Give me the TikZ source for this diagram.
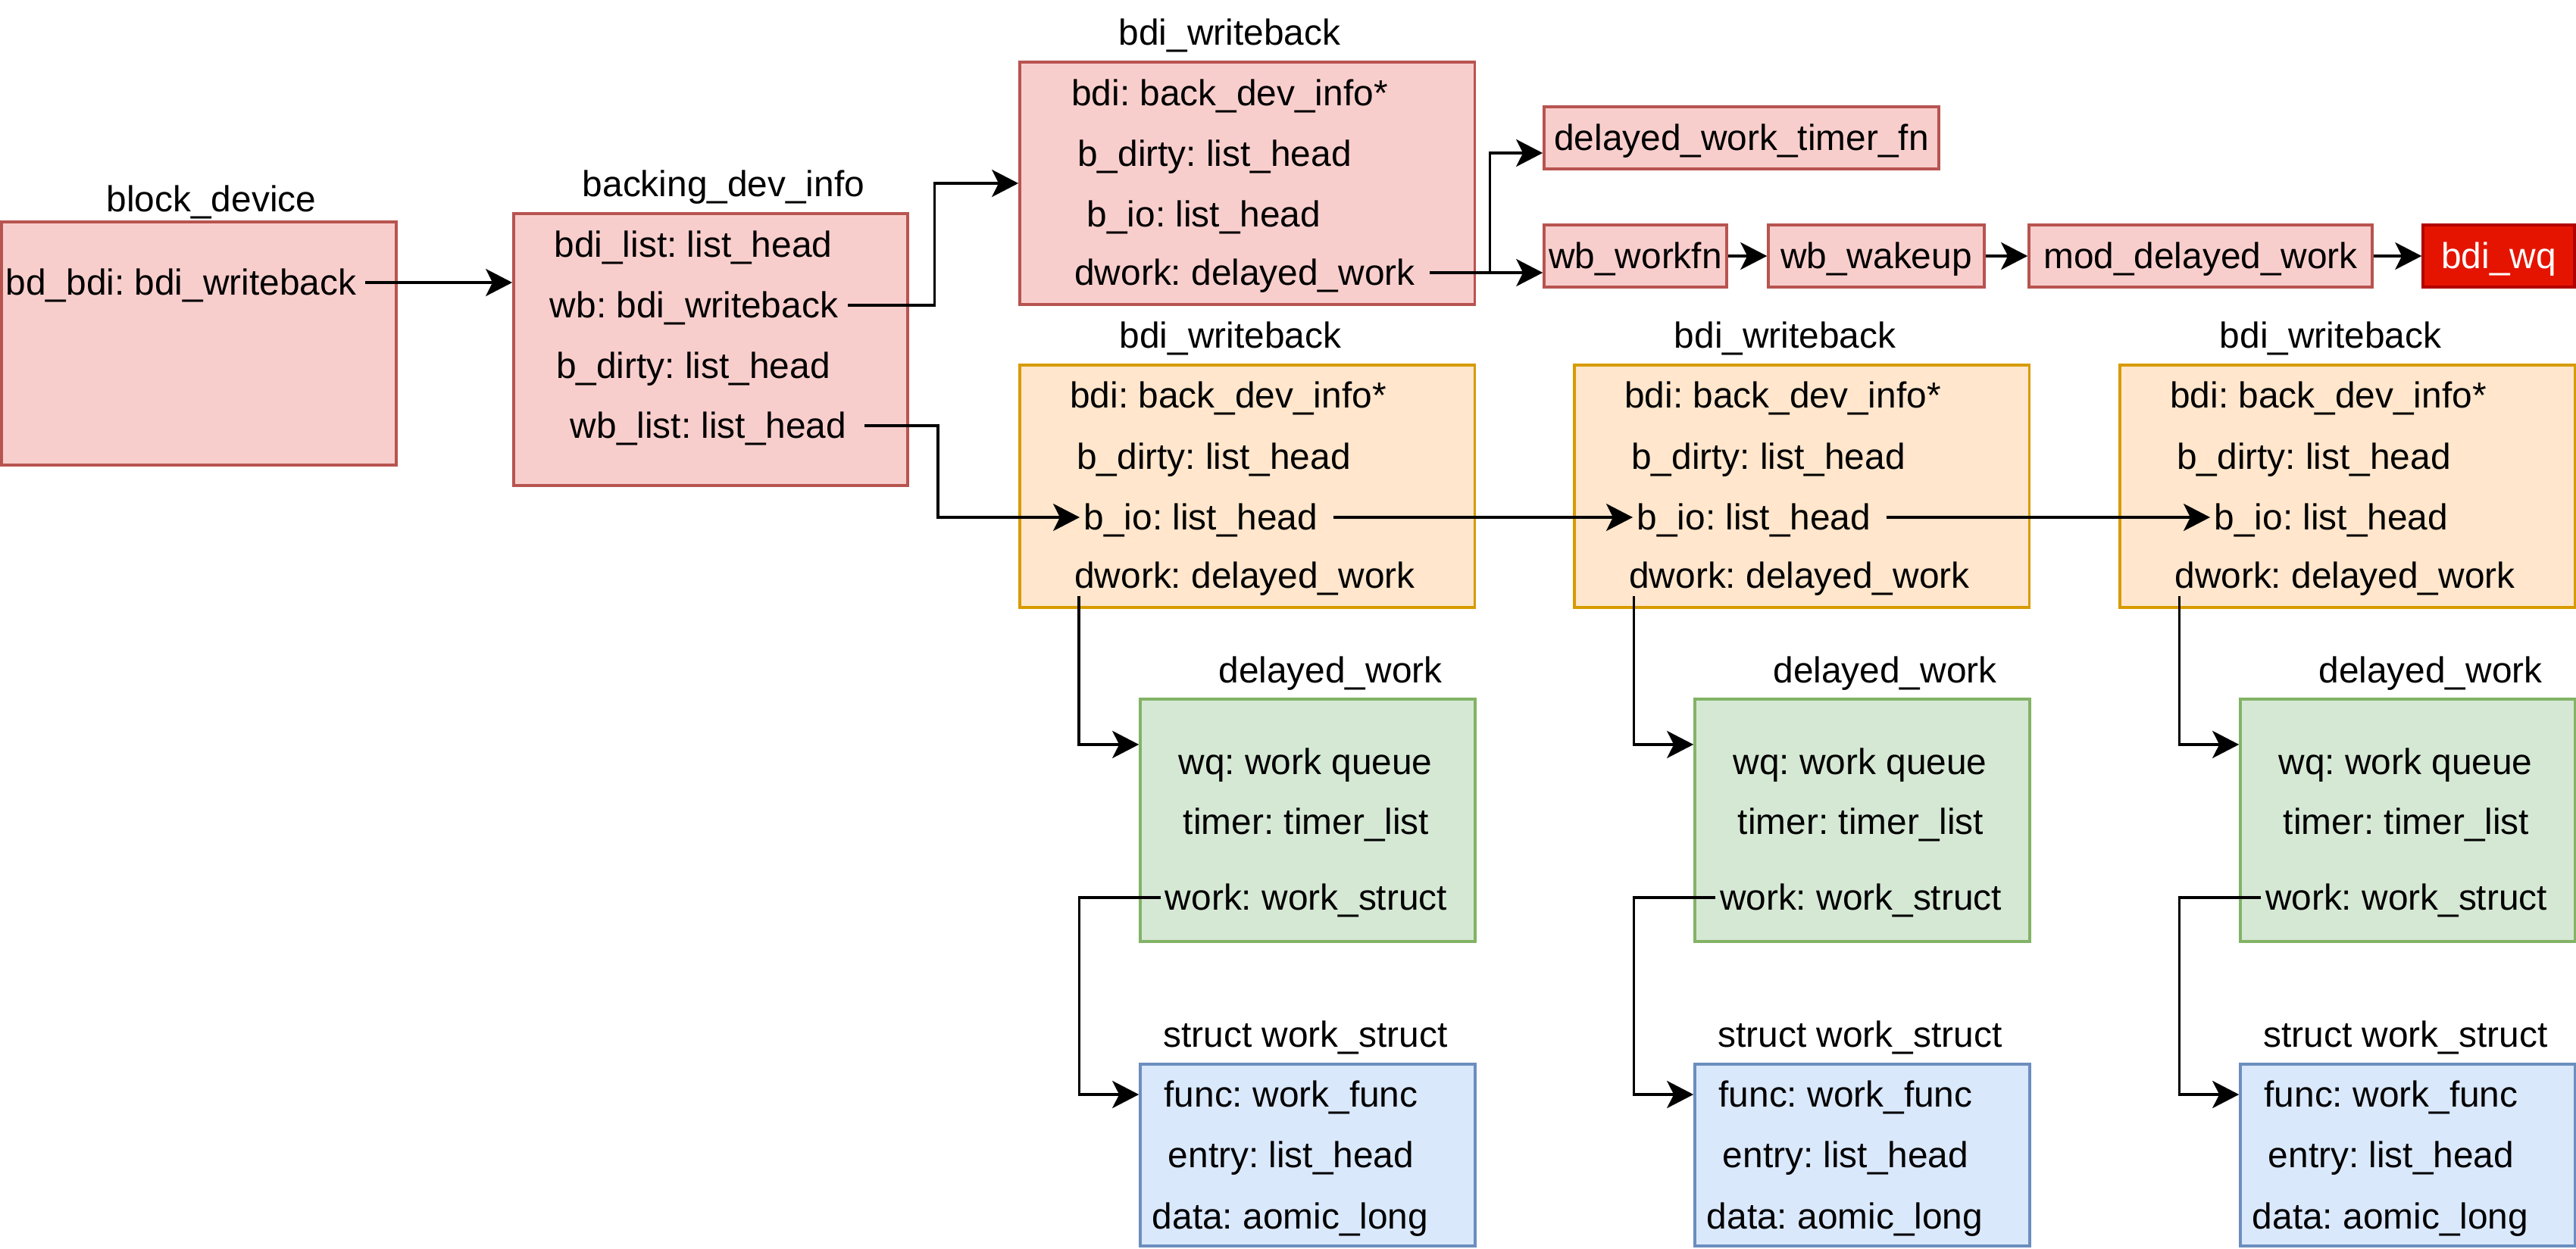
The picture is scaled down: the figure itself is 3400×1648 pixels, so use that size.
\documentclass[tikz,border=0pt]{standalone}
\usepackage{fontspec}
\setmainfont{Liberation Sans}
\usetikzlibrary{arrows.meta,calc}
\definecolor{pinkF}{HTML}{F8CECC}\definecolor{pinkD}{HTML}{B85450}
\definecolor{orangeF}{HTML}{FFE6CC}\definecolor{orangeD}{HTML}{D79B00}
\definecolor{greenF}{HTML}{D5E8D4}\definecolor{greenD}{HTML}{82B366}
\definecolor{blueF}{HTML}{DAE8FC}\definecolor{blueD}{HTML}{6C8EBF}
\definecolor{redF}{HTML}{E51400}\definecolor{redD}{HTML}{B20000}
\frenchspacing
\begin{document}
\begin{tikzpicture}[x=0.01cm,y=-0.01cm,
  font=\fontsize{13.6pt}{16pt}\selectfont\frenchspacing,
  box/.style={rectangle, line width=0.034cm, inner sep=0pt, text height=0.425cm, text depth=0.1cm},
  pinkbox/.style={box, fill=pinkF, draw=pinkD},
  orangebox/.style={box, fill=orangeF, draw=orangeD},
  greenbox/.style={box, fill=greenF, draw=greenD},
  bluebox/.style={box, fill=blueF, draw=blueD},
  redbox/.style={box, fill=redF, draw=redD, text=white},
  txt/.style={inner xsep=0.05cm, inner ysep=0pt, text height=0.425cm, text depth=0.1cm},
  arr/.style={line width=0.034cm, -{Stealth[length=0.35cm,width=0.36cm,inset=0.09cm]}},
]
\useasboundingbox (0,0) rectangle (3400,1648);

% block_device
\node[pinkbox, minimum width=5.21cm, minimum height=3.21cm] (bd) at (262.5,453.5) {};
\node[txt] (bdL) at (279,263) {block\_device};
\node[txt] (bdT) at (239,373) {bd\_bdi: bdi\_writeback};

% backing_dev_info
\node[pinkbox, minimum width=5.2cm, minimum height=3.59cm] (bdi) at (938,461.5) {};
\node[txt] (bdiL) at (955,243) {backing\_dev\_info};
\node[txt] (bdiA) at (915,323) {bdi\_list: list\_head};
\node[txt] (bdiB) at (916,403) {wb: bdi\_writeback};
\node[txt] (bdiC) at (915,483) {b\_dirty: list\_head};
\node[txt] (bdiD) at (935,562) {wb\_list: list\_head};

% top bdi_writeback
\node[pinkbox, minimum width=6cm, minimum height=3.2cm] (wbt) at (1646,242) {};
\node[txt] (wbtL) at (1623,43) {bdi\_writeback};
\node[txt] (wbtA) at (1623,123) {bdi: back\_dev\_info*};
\node[txt] (wbtB) at (1603,203) {b\_dirty: list\_head};
\node[txt] (wbtC) at (1589,283) {b\_io: list\_head};
\node[txt] (dwt) at (1643,360) {dwork: delayed\_work};

% function chain
\node[pinkbox, minimum width=5.21cm, minimum height=0.82cm] (tim) at (2298.5,182) {delayed\_work\_timer\_fn};
\node[pinkbox, minimum width=2.41cm, minimum height=0.82cm] (wfn) at (2158.5,338) {wb\_workfn};
\node[pinkbox, minimum width=2.85cm, minimum height=0.82cm] (wak) at (2476.5,338) {wb\_wakeup};
\node[pinkbox, minimum width=4.53cm, minimum height=0.82cm] (mod) at (2904.5,338) {mod\_delayed\_work};
\node[redbox, minimum width=2cm, minimum height=0.82cm] (bwq) at (3298,338) {bdi\_wq};

% columns
\foreach \d/\i/\bx in {0/1/1425, 732/2/2155, 1452/3/2917} {
  \node[orangebox, minimum width=6cm, minimum height=3.2cm] (ob\i) at (1646+\d,642) {};
  \node[txt] (obL\i) at (1624+\d,443) {bdi\_writeback};
  \node[txt] (obA\i) at (1621+\d,522) {bdi: back\_dev\_info*};
  \node[txt] (obB\i) at (1602+\d,603) {b\_dirty: list\_head};
  \node[txt, anchor=west] (bio\i) at (\bx,683) {b\_io: list\_head};
  \node[txt] (dw\i) at (1643+\d,760) {dwork: delayed\_work};

  \node[greenbox, minimum width=4.42cm, minimum height=3.2cm] (gr\i) at (1726+\d,1083) {};
  \node[txt] (grL\i) at (1756+\d,885) {delayed\_work};
  \node[txt] (wq\i) at (1723+\d,1006) {wq: work queue};
  \node[txt] (tm\i) at (1724+\d,1085) {timer: timer\_list};
  \node[txt] (wk\i) at (1724+\d,1185) {work: work\_struct};

  \node[bluebox, minimum width=4.42cm, minimum height=2.4cm] (bl\i) at (1726+\d,1525) {};
  \node[txt] (blL\i) at (1723+\d,1366) {struct work\_struct};
  \node[txt] (fn\i) at (1704+\d,1445) {func: work\_func};
  \node[txt] (en\i) at (1704+\d,1525) {entry: list\_head};
  \node[txt] (da\i) at (1703+\d,1606) {data: aomic\_long};

  \draw[arr] ([xshift=0.115cm]dw\i.south west) |- ([yshift=1cm]gr\i.west);
  \draw[arr] (wk\i.west) -- ++(-108,0) |- (bl\i.west |- fn\i.west);
}

% connectors
\draw[arr] ([xshift=0.06cm]bdT.east) -- (bdT.east -| bdi.west);
\draw[arr] ([xshift=0.07cm]bdiB.east) -- ++(115,0) |- (wbt.west);
\draw[arr] ([xshift=0.18cm]bdiD.east) -- ++(97,0) |- (bio1.west);
\draw[arr] ([xshift=0.14cm]dwt.east) -- ++(79,0) |- ([yshift=-0.2cm]tim.west);
\draw[arr] ([xshift=0.14cm]dwt.east) -- (dwt.east -| wfn.west);
\draw[arr] (wfn) -- (wak);
\draw[arr] (wak) -- (mod);
\draw[arr] (mod) -- (bwq);
\draw[arr] ([xshift=0.15cm]bio1.east) -- (bio2.west);
\draw[arr] ([xshift=0.15cm]bio2.east) -- (bio3.west);
\end{tikzpicture}
\end{document}
